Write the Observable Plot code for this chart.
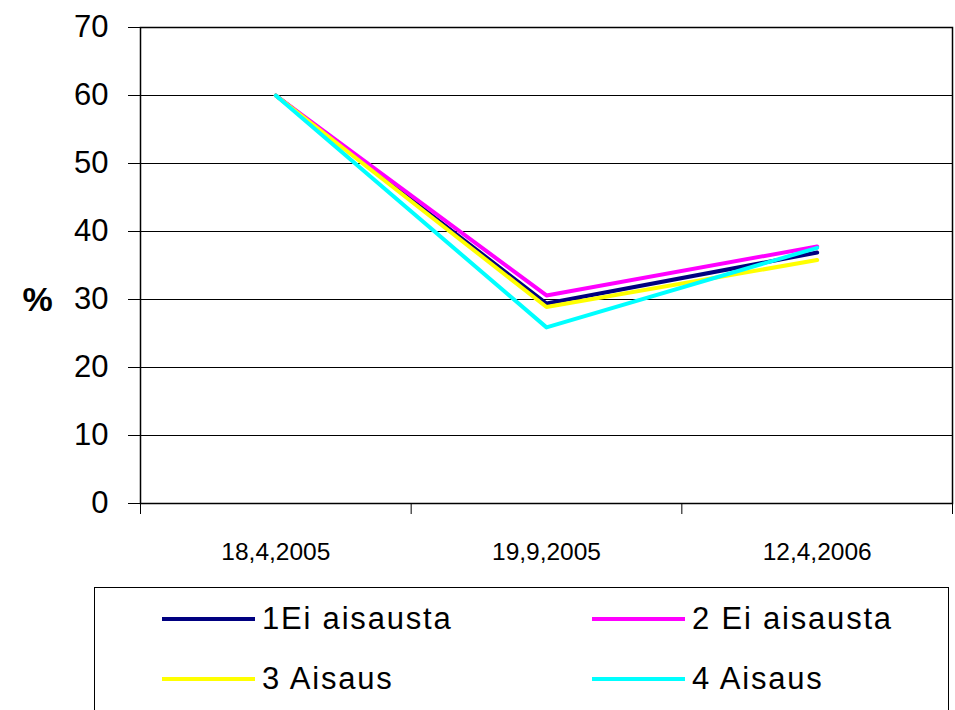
<!DOCTYPE html>
<html>
<head>
<meta charset="utf-8">
<script src="https://cdn.jsdelivr.net/npm/d3@7"></script>
<script src="https://cdn.jsdelivr.net/npm/@observablehq/plot@0.6"></script>
<style>
  html, body { margin: 0; padding: 0; background: #fff; overflow: hidden; }
  #wrap { position: relative; width: 955px; height: 710px; font-family: "Liberation Sans", Arial, sans-serif; }
  #legend { position: absolute; left: 94px; top: 587px; width: 855px; height: 140px; border: 1.5px solid #000; box-sizing: border-box; }
  .item { position: absolute; display: flex; align-items: center; height: 40px; }
  .swatch { width: 93px; height: 4px; margin-right: 7px; }
  .lab { font-size: 31px; letter-spacing: 1.8px; color: #000; white-space: nowrap; }
</style>
</head>
<body>
<div id="wrap">
  <div id="chart"></div>
  <div id="legend"></div>
</div>
<script>
const dates = ["18,4,2005", "19,9,2005", "12,4,2006"];
const seriesNames = ["1Ei aisausta", "2 Ei aisausta", "3 Aisaus", "4 Aisaus"];
const seriesColors = ["#000080", "#FF00FF", "#FFFF00", "#00FFFF"];
const series1 = [60, 29.4, 36.9];
const series2 = [60, 30.6, 37.8];
const series3 = [60, 28.9, 35.8];
const series4 = [60, 25.9, 37.6];
const yTicks = [0, 10, 20, 30, 40, 50, 60, 70];
const yLabel = "%";

const allSeries = [series1, series2, series3, series4];
const data = allSeries.flatMap((vals, k) => vals.map((v, i) => ({ i, v, s: seriesNames[k] })));
const boundaries = d3.range(dates.length + 1).map(i => i - 0.5);

const chart = Plot.plot({
  width: 955,
  height: 575,
  marginLeft: 140,
  marginRight: 3,
  marginTop: 27,
  marginBottom: 72,
  style: { fontFamily: "Liberation Sans, Arial, sans-serif", background: "white", color: "black" },
  x: { domain: [-0.5, dates.length - 0.5], axis: null },
  y: { domain: [0, 70], axis: null },
  color: { domain: seriesNames, range: seriesColors },
  marks: [
    Plot.gridY(yTicks, { stroke: "black", strokeOpacity: 1, strokeWidth: 1 }),
    Plot.axisY({ ticks: yTicks, tickSize: 12, tickPadding: 20, fontSize: 31, label: null, stroke: "black" }),
    Plot.axisX({ ticks: boundaries, tickSize: 11, tickFormat: () => "", label: null, stroke: "black" }),
    Plot.axisX({ ticks: d3.range(dates.length), tickSize: 0, tickPadding: 39, tickFormat: i => dates[i], fontSize: 24.5, label: null }),
    Plot.frame({ stroke: "black", strokeWidth: 1.5 }),
    Plot.line(data, { x: "i", y: "v", z: "s", stroke: "s", strokeWidth: 4 }),
    Plot.text([yLabel], { frameAnchor: "left", textAnchor: "middle", dx: -103, dy: 35, fontSize: 34, fontWeight: "bold", fill: "black" })
  ]
});
document.getElementById("chart").appendChild(chart);

const legend = document.getElementById("legend");
seriesNames.forEach((name, k) => {
  const col = k % 2, row = Math.floor(k / 2);
  const item = document.createElement("div");
  item.className = "item";
  item.style.left = (col === 0 ? 67 : 497) + "px";
  item.style.top = (row === 0 ? 11 : 71) + "px";
  const sw = document.createElement("div");
  sw.className = "swatch";
  sw.style.background = seriesColors[k];
  const lab = document.createElement("span");
  lab.className = "lab";
  lab.textContent = name;
  item.appendChild(sw);
  item.appendChild(lab);
  legend.appendChild(item);
});
</script>
</body>
</html>
